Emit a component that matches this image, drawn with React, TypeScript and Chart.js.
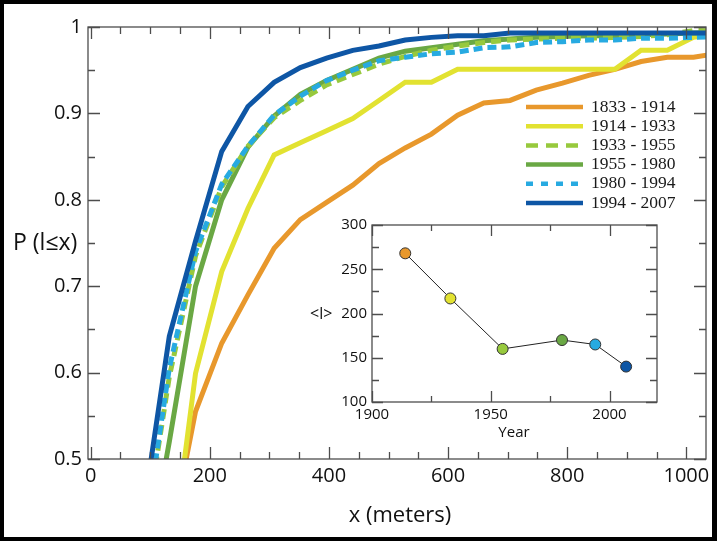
import React, { useEffect, useRef } from "react";
import { Chart, registerables } from "chart.js";

Chart.register(...registerables);

// ---- Main chart data ----
const distances = [88, 132, 176, 220, 264, 308, 352, 396, 440, 484, 528, 572, 616, 660, 704, 748, 792, 836, 880, 924, 968, 1012, 1056];
const p1833_1914 = [0.25, 0.40, 0.555, 0.634, 0.690, 0.744, 0.777, 0.797, 0.817, 0.842, 0.860, 0.876, 0.898, 0.912, 0.915, 0.927, 0.935, 0.944, 0.951, 0.960, 0.965, 0.965, 0.970];
const p1914_1933 = [0.20, 0.363, 0.599, 0.717, 0.790, 0.852, 0.866, 0.880, 0.894, 0.915, 0.936, 0.936, 0.951, 0.951, 0.951, 0.951, 0.951, 0.951, 0.951, 0.973, 0.973, 0.988, 0.992];
const p1933_1955 = [0.40, 0.595, 0.735, 0.815, 0.862, 0.895, 0.915, 0.933, 0.945, 0.957, 0.966, 0.973, 0.978, 0.982, 0.985, 0.986, 0.987, 0.987, 0.988, 0.989, 0.991, 0.996, 0.995];
const p1955_1980 = [0.35, 0.52, 0.70, 0.80, 0.861, 0.897, 0.922, 0.938, 0.951, 0.964, 0.972, 0.976, 0.980, 0.984, 0.986, 0.988, 0.989, 0.990, 0.990, 0.991, 0.992, 0.993, 0.994];
const p1980_1994 = [0.40, 0.605, 0.74, 0.818, 0.862, 0.898, 0.920, 0.938, 0.950, 0.961, 0.965, 0.969, 0.971, 0.976, 0.977, 0.982, 0.983, 0.985, 0.985, 0.987, 0.987, 0.988, 0.989];
const p1994_2007 = [0.437, 0.642, 0.752, 0.856, 0.908, 0.936, 0.953, 0.964, 0.973, 0.978, 0.985, 0.988, 0.990, 0.990, 0.993, 0.993, 0.993, 0.993, 0.993, 0.993, 0.993, 0.993, 0.993];

const seriesLabels = ["1833 - 1914", "1914 - 1933", "1933 - 1955", "1955 - 1980", "1980 - 1994", "1994 - 2007"];
const seriesValues = [p1833_1914, p1914_1933, p1933_1955, p1955_1980, p1980_1994, p1994_2007];
const seriesColors = ["#E8982C", "#E2E231", "#97C93D", "#6AA844", "#27AAE1", "#0E56A5"];
const seriesDashes: number[][] = [[], [], [10, 6], [], [9, 5], []];
const legendDashes: number[][] = [[], [], [12, 8], [], [7, 8], []];
const drawOrder = [5, 4, 2, 3, 1, 0]; // lower = drawn later (on top)

const xTickValues = [0, 200, 400, 600, 800, 1000];
const yTickValues = [0.5, 0.6, 0.7, 0.8, 0.9, 1];

// ---- Inset data ----
const insetYears = [1914, 1933, 1955, 1980, 1994, 2007];
const insetMeans = [268, 217, 160, 170, 165, 140];
const insetXTicks = [1900, 1950, 2000];
const insetYTicks = [100, 150, 200, 250, 300];

const SANS = "'Open Sans', 'DejaVu Sans', sans-serif";
const SERIF = "'Liberation Serif', 'DejaVu Serif', serif";
const AXIS_GRAY = "#4d4d4d";

const mainDecor = {
  id: "mainDecor",
  beforeDraw(chart: any) {
    const ctx = chart.ctx;
    ctx.save();
    ctx.fillStyle = "#000";
    ctx.fillRect(0, 0, chart.width, chart.height);
    ctx.fillStyle = "#fff";
    ctx.fillRect(4, 4, 708, 533);
    ctx.restore();
  },
  afterDraw(chart: any) {
    const { ctx, chartArea: a, scales } = chart;
    const x = scales.x;
    const y = scales.y;
    ctx.save();
    ctx.strokeStyle = AXIS_GRAY;
    ctx.lineWidth = 1.3;
    ctx.strokeRect(a.left, a.top, a.right - a.left, a.bottom - a.top);
    ctx.beginPath();
    for (let v = 0; v <= 1000; v += 50) {
      const px = Math.round(x.getPixelForValue(v)) + 0.5;
      const len = v % 200 === 0 ? 12 : 7;
      ctx.moveTo(px, a.bottom);
      ctx.lineTo(px, a.bottom - len);
      ctx.moveTo(px, a.top);
      ctx.lineTo(px, a.top + len);
    }
    for (let k = 0; k <= 10; k++) {
      const py = Math.round(y.getPixelForValue(0.5 + k * 0.05)) + 0.5;
      const len = k % 2 === 0 ? 12 : 7;
      ctx.moveTo(a.left, py);
      ctx.lineTo(a.left + len, py);
      ctx.moveTo(a.right, py);
      ctx.lineTo(a.right - len, py);
    }
    ctx.stroke();

    // legend
    const ds = chart.data.datasets;
    ctx.font = `17.5px ${SERIF}`;
    ctx.textBaseline = "middle";
    ctx.textAlign = "left";
    for (let i = 0; i < ds.length; i++) {
      const ly = 107 + i * 19.2;
      ctx.beginPath();
      ctx.setLineDash(legendDashes[i]);
      ctx.strokeStyle = ds[i].borderColor;
      ctx.lineWidth = 4.5;
      ctx.moveTo(526, ly);
      ctx.lineTo(583, ly);
      ctx.stroke();
      ctx.setLineDash([]);
      ctx.fillStyle = "#1a1a1a";
      ctx.fillText(ds[i].label, 591, ly);
    }

    // axis titles
    ctx.fillStyle = "#111";
    ctx.font = `23px ${SANS}`;
    ctx.textAlign = "left";
    ctx.fillText("P (l\u2264x)", 13, 243);
    ctx.font = `22px ${SANS}`;
    ctx.textAlign = "center";
    ctx.fillText("x (meters)", 400, 516);
    ctx.restore();
  },
};

const insetDecor = {
  id: "insetDecor",
  afterDraw(chart: any) {
    const { ctx, chartArea: a, scales } = chart;
    const x = scales.x;
    const y = scales.y;
    ctx.save();
    ctx.strokeStyle = AXIS_GRAY;
    ctx.lineWidth = 1.3;
    ctx.strokeRect(a.left, a.top, a.right - a.left, a.bottom - a.top);
    ctx.beginPath();
    for (let v = 1900; v <= 2020; v += 25) {
      const px = Math.round(x.getPixelForValue(v)) + 0.5;
      const len = (v - 1900) % 50 === 0 ? 11 : 6;
      ctx.moveTo(px, a.bottom);
      ctx.lineTo(px, a.bottom - len);
      ctx.moveTo(px, a.top);
      ctx.lineTo(px, a.top + len);
    }
    for (let v = 100; v <= 300; v += 25) {
      const py = Math.round(y.getPixelForValue(v)) + 0.5;
      const len = v % 50 === 0 ? 11 : 7;
      ctx.moveTo(a.left, py);
      ctx.lineTo(a.left + len, py);
      ctx.moveTo(a.right, py);
      ctx.lineTo(a.right - len, py);
    }
    ctx.stroke();
    ctx.fillStyle = "#111";
    ctx.font = `16px ${SANS}`;
    ctx.textBaseline = "middle";
    ctx.textAlign = "left";
    ctx.fillText("<l>", 310, 314);
    ctx.font = `15px ${SANS}`;
    ctx.textAlign = "center";
    ctx.fillText("Year", 514, 433);
    ctx.restore();
  },
};

export default function App() {
  const mainRef = useRef<HTMLCanvasElement | null>(null);
  const insetRef = useRef<HTMLCanvasElement | null>(null);

  useEffect(() => {
    const mainCanvas = mainRef.current;
    const insetCanvas = insetRef.current;
    if (!mainCanvas || !insetCanvas) return;

    const datasets = seriesValues.map((vals, i) => ({
      label: seriesLabels[i],
      data: distances.map((d, j) => ({ x: d, y: vals[j] })),
      borderColor: seriesColors[i],
      backgroundColor: seriesColors[i],
      borderWidth: 5,
      borderDash: seriesDashes[i],
      pointRadius: 0,
      tension: 0,
      fill: false,
      clip: 0,
      order: drawOrder[i],
    }));

    const main = new Chart(mainCanvas, {
      type: "line",
      data: { datasets },
      plugins: [mainDecor],
      options: {
        responsive: false,
        animation: false,
        devicePixelRatio: 1,
        layout: { padding: { left: 0, top: 27, right: 11, bottom: 0 } },
        plugins: { legend: { display: false }, tooltip: { enabled: false } },
        scales: {
          x: {
            type: "linear",
            min: -4.5,
            max: 1033,
            afterFit: (s: any) => { s.height = 82; },
            afterBuildTicks: (s: any) => { s.ticks = xTickValues.map((v) => ({ value: v })); },
            grid: { display: false, drawTicks: false },
            border: { display: false },
            ticks: {
              padding: 5,
              maxRotation: 0,
              autoSkip: false,
              color: "#111",
              font: { family: SANS, size: 20 },
              callback: (v: any) => String(v),
            },
          },
          y: {
            type: "linear",
            min: 0.5,
            max: 1,
            afterFit: (s: any) => { s.width = 88; },
            afterBuildTicks: (s: any) => { s.ticks = yTickValues.map((v) => ({ value: v })); },
            grid: { display: false, drawTicks: false },
            border: { display: false },
            ticks: {
              padding: 6,
              autoSkip: false,
              color: "#111",
              font: { family: SANS, size: 20 },
              callback: (v: any) => String(Number(Number(v).toFixed(1))),
            },
          },
        },
      },
    } as any);

    const inset = new Chart(insetCanvas, {
      type: "line",
      data: {
        datasets: [
          {
            label: "<l>",
            data: insetYears.map((yr, i) => ({ x: yr, y: insetMeans[i] })),
            borderColor: "#222",
            borderWidth: 1,
            pointRadius: 5.5,
            pointBackgroundColor: seriesColors,
            pointBorderColor: "#333",
            pointBorderWidth: 1,
            tension: 0,
            fill: false,
            clip: false,
          },
        ],
      },
      plugins: [insetDecor],
      options: {
        responsive: false,
        animation: false,
        devicePixelRatio: 1,
        layout: { padding: { left: 300, top: 225, right: 60, bottom: 100 } },
        plugins: { legend: { display: false }, tooltip: { enabled: false } },
        scales: {
          x: {
            type: "linear",
            min: 1900,
            max: 2020,
            afterFit: (s: any) => { s.height = 39; },
            afterBuildTicks: (s: any) => { s.ticks = insetXTicks.map((v) => ({ value: v })); },
            grid: { display: false, drawTicks: false },
            border: { display: false },
            ticks: { padding: 4, maxRotation: 0, autoSkip: false, color: "#111", font: { family: SANS, size: 15 }, callback: (v: any) => String(v) },
          },
          y: {
            type: "linear",
            min: 100,
            max: 300,
            afterFit: (s: any) => { s.width = 72; },
            afterBuildTicks: (s: any) => { s.ticks = insetYTicks.map((v) => ({ value: v })); },
            grid: { display: false, drawTicks: false },
            border: { display: false },
            ticks: { padding: 5, autoSkip: false, color: "#111", font: { family: SANS, size: 15 }, callback: (v: any) => String(v) },
          },
        },
      },
    } as any);

    return () => {
      main.destroy();
      inset.destroy();
    };
  }, []);

  return (
    <div style={{ position: "fixed", left: 0, top: 0, width: 717, height: 541 }}>
      <canvas ref={mainRef} width={717} height={541} style={{ position: "absolute", left: 0, top: 0, display: "block" }} />
      <canvas ref={insetRef} width={717} height={541} style={{ position: "absolute", left: 0, top: 0, display: "block" }} />
    </div>
  );
}
